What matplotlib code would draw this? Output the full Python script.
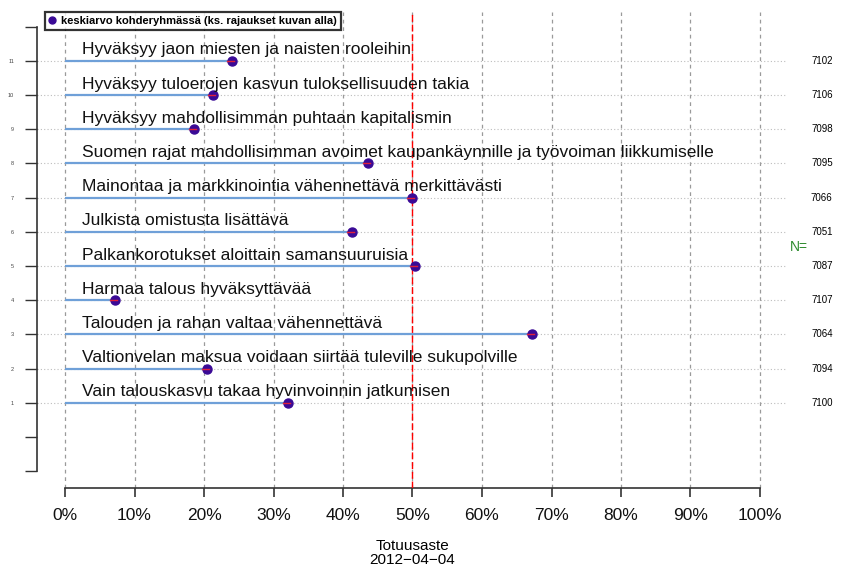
import matplotlib.pyplot as plt
from matplotlib.lines import Line2D

plt.rcParams['font.family'] = ['Liberation Sans', 'DejaVu Sans']

# väittämät alhaalta ylös (rivi 1 = alin)
vaittamat = [
    "Vain talouskasvu takaa hyvinvoinnin jatkumisen",
    "Valtionvelan maksua voidaan siirtää tuleville sukupolville",
    "Talouden ja rahan valtaa vähennettävä",
    "Harmaa talous hyväksyttävää",
    "Palkankorotukset aloittain samansuuruisia",
    "Julkista omistusta lisättävä",
    "Mainontaa ja markkinointia vähennettävä merkittävästi",
    "Suomen rajat mahdollisimman avoimet kaupankäynnille ja työvoiman liikkumiselle",
    "Hyväksyy mahdollisimman puhtaan kapitalismin",
    "Hyväksyy tuloerojen kasvun tuloksellisuuden takia",
    "Hyväksyy jaon miesten ja naisten rooleihin",
]
totuusaste = [32.1, 20.4, 67.2, 7.2, 50.4, 41.3, 49.9, 43.6, 18.6, 21.3, 24.0]
vastaajia = [7100, 7094, 7064, 7107, 7087, 7051, 7066, 7095, 7098, 7106, 7102]
x_ticks = list(range(0, 101, 10))
paiva = "2012\u221204\u221204"

fig = plt.figure(figsize=(8.44, 5.67), dpi=100)
ax = fig.add_axes([37 / 844, 1 - 488 / 567, (787 - 37) / 844, (488 - 12) / 567])
ax.set_xlim(-28 / 6.95, (787 - 65) / 6.95)
ax.set_ylim(-1.49, 12.43)

rivit = list(range(1, len(vaittamat) + 1))

# pystysuorat apuviivat
for x in x_ticks:
    ax.axvline(x, color='#9a9a9a', lw=0.9, ls=(0, (3, 3)), zorder=1)
# vaakasuorat pisteviivat
for y in rivit:
    ax.axhline(y, color='#bdbdbd', lw=0.8, ls=(0, (1, 2)), zorder=1)

ax.axvline(50, color='red', lw=1.0, ls=(0, (5, 2)), zorder=5)

for y, v, teksti, n in zip(rivit, totuusaste, vaittamat, vastaajia):
    ax.plot([0, v], [y, y], color='#6fa0d8', lw=1.6, zorder=3, solid_capstyle='butt')
    ax.plot(v, y, 'o', ms=6.5, color='#3a0a96', mec='#3a0a96', zorder=6)
    ax.plot([v - 0.7, v + 0.3], [y, y], color='#e0203a', lw=1.0, zorder=7)
    ax.text(2.5, y + 0.19, teksti, fontsize=12.5, va='baseline', ha='left', color='#111111', zorder=8)
    ax.text(108.9, y, str(n), fontsize=7, va='center', ha='center', clip_on=False)

ax.text(105.6, 5.55, "N=", fontsize=10, color='#2e8b2e', va='center', ha='center', clip_on=False)

# akselit R-tyyliin
ax.spines['top'].set_visible(False)
ax.spines['right'].set_visible(False)
ax.spines['left'].set_bounds(-1, 12)
ax.spines['bottom'].set_bounds(0, 100)
ax.spines['left'].set_color('#333333')
ax.spines['bottom'].set_color('#333333')
ax.spines['left'].set_linewidth(1.2)
ax.spines['bottom'].set_linewidth(1.2)

ax.set_yticks(list(range(-1, 13)))
ax.set_yticklabels([str(i) if 1 <= i <= 11 else '' for i in range(-1, 13)], fontsize=4, color='#444444')
ax.tick_params(axis='y', length=8.5, width=1.0, colors='#333333', labelcolor='#444444', pad=8)

ax.set_xticks(x_ticks)
ax.set_xticklabels([f"{x}%" for x in x_ticks], fontsize=12.5)
ax.tick_params(axis='x', length=6.5, width=1.2, colors='#333333', labelcolor='#111111', pad=8)

fig.text((65 + 6.95 * 50) / 844, 1 - 546 / 567, "Totuusaste", fontsize=11, ha='center', va='center')
fig.text((65 + 6.95 * 50) / 844, 1 - 560 / 567, paiva, fontsize=11, ha='center', va='center')

kahva = Line2D([], [], marker='o', ls='none', ms=5, color='#3a0a96')
leg = fig.legend([kahva], ["keskiarvo kohderyhmässä (ks. rajaukset kuvan alla)"],
                 loc='upper left', bbox_to_anchor=(45 / 844, 1 - 12 / 567),
                 prop={'size': 8, 'weight': 'bold'}, frameon=True, fancybox=False,
                 borderpad=0.35, handlelength=0.6, handletextpad=0.5, borderaxespad=0)
leg.get_frame().set_edgecolor('black')
leg.get_frame().set_linewidth(1.6)

fig.savefig("out.png", dpi=100)
